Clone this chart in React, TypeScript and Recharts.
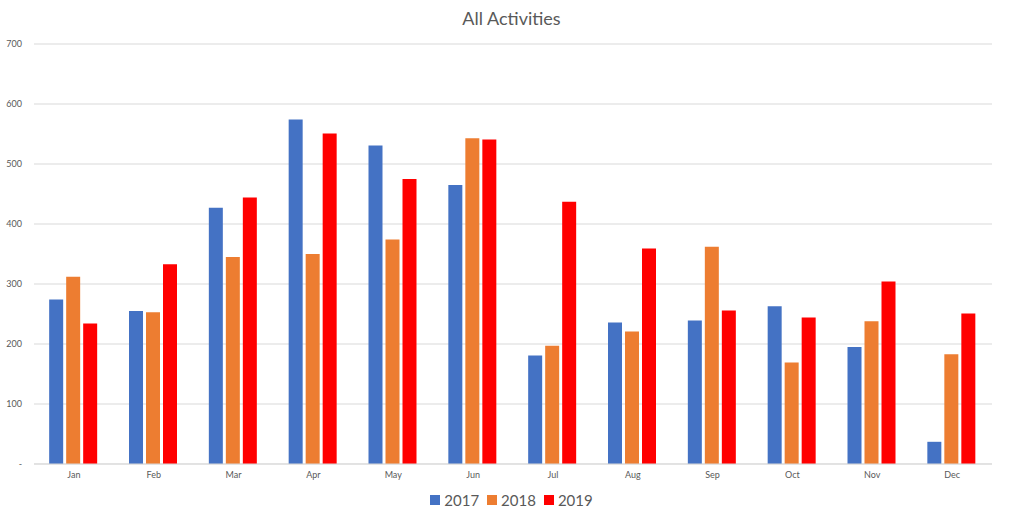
import { BarChart, Bar, XAxis, YAxis, CartesianGrid, Legend } from 'recharts'

const months = ['Jan', 'Feb', 'Mar', 'Apr', 'May', 'Jun', 'Jul', 'Aug', 'Sep', 'Oct', 'Nov', 'Dec']
const y2017 = [274, 255, 427, 574, 531, 465, 181, 236, 239, 263, 195, 37]
const y2018 = [312, 253, 345, 350, 374, 543, 197, 221, 362, 169, 238, 183]
const y2019 = [234, 333, 444, 551, 475, 541, 437, 359, 256, 244, 304, 251]
const yTicks = [0, 100, 200, 300, 400, 500, 600, 700]

const data = months.map((m, i) => ({ month: m, '2017': y2017[i], '2018': y2018[i], '2019': y2019[i] }))

const FONT = 'Lato, "Open Sans", sans-serif'
const GREY = '#595959'

// Excel-style legend: small squares, tight spacing
const renderLegend = (props: any) => (
  <div style={{ display: 'flex', justifyContent: 'center', gap: 8, fontSize: 15, color: GREY, lineHeight: '20px' }}>
    {props.payload.map((p: any) => (
      <span key={p.value} style={{ display: 'flex', alignItems: 'center' }}>
        <span style={{ width: 10, height: 10, background: p.color, marginRight: 4, display: 'inline-block' }} />
        {p.value}
      </span>
    ))}
  </div>
)

export default function App() {
  return (
    <div style={{ position: 'absolute', left: 0, top: 0, width: 1023, height: 520, background: '#fff', fontFamily: FONT }}>
      <div style={{ position: 'absolute', top: 7, left: 0, width: 1023, textAlign: 'center', fontSize: 18, color: GREY }}>
        All Activities
      </div>
      <BarChart
        width={1023}
        height={520}
        data={data}
        margin={{ top: 44, right: 31, left: 0, bottom: 10 }}
        barCategoryGap="19%"
        barGap={3}
      >
        <CartesianGrid vertical={false} stroke="#d9d9d9" />
        <XAxis
          dataKey="month"
          height={26}
          tickLine={false}
          axisLine={{ stroke: '#d9d9d9' }}
          tick={{ fontSize: 9, fill: GREY }}
        />
        <YAxis
          width={34}
          domain={[0, 700]}
          ticks={yTicks}
          tickFormatter={v => (v === 0 ? '-' : String(v))}
          tickLine={false}
          axisLine={false}
          tickSize={0}
          tickMargin={12}
          tick={{ fontSize: 9, fill: GREY }}
        />
        <Legend
          verticalAlign="bottom"
          content={renderLegend}
          wrapperStyle={{ left: 0, width: 1023 }}
        />
        <Bar dataKey="2017" fill="#4472c4" isAnimationActive={false} />
        <Bar dataKey="2018" fill="#ed7d31" isAnimationActive={false} />
        <Bar dataKey="2019" fill="#ff0000" isAnimationActive={false} />
      </BarChart>
    </div>
  )
}
